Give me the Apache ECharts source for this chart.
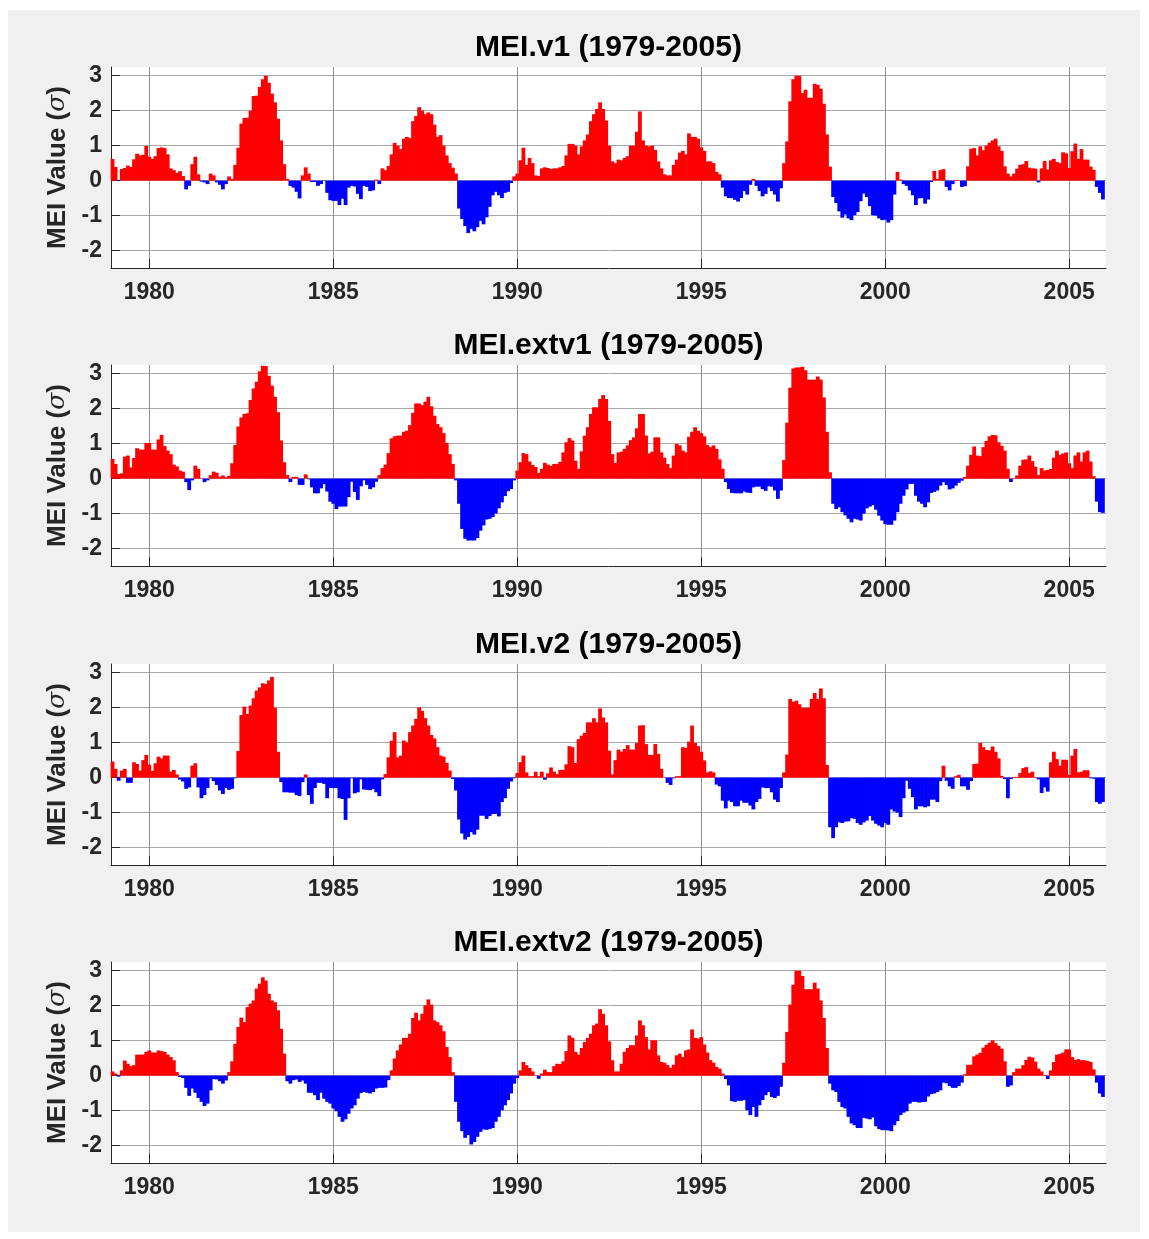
<!DOCTYPE html>
<html><head><meta charset="utf-8">
<script src="https://cdn.jsdelivr.net/npm/echarts@6/dist/echarts.min.js"></script>
<style>
html,body{margin:0;padding:0;background:#fff;}
#bg{position:absolute;left:8px;top:10px;width:1132px;height:1222px;background:#f0f0f0;}
#chart{position:absolute;left:0;top:0;width:1149px;height:1239px;}
</style></head><body>
<div id="bg"></div><div id="chart"></div>
<script>
const startYear = 1979;
const titles = ['MEI.v1 (1979-2005)', 'MEI.extv1 (1979-2005)', 'MEI.v2 (1979-2005)', 'MEI.extv2 (1979-2005)'];
const xTicks = [1980, 1985, 1990, 1995, 2000, 2005];
const yTicks = [-2, -1, 0, 1, 2, 3];
const yLabel = 'MEI Value ({s|σ})';

const meiV1 = [
 0.62,0.39,-0.01,0.33,0.36,0.43,0.39,0.61,0.77,0.72,0.74,0.99,
 0.68,0.62,0.70,0.93,0.95,0.93,0.75,0.35,0.30,0.22,0.27,0.13,
 -0.25,-0.15,0.47,0.68,0.18,-0.03,-0.05,-0.10,0.20,0.15,-0.05,-0.12,
 -0.25,-0.10,0.12,0.05,0.45,0.94,1.63,1.79,1.80,2.00,2.42,2.43,
 2.68,2.90,3.00,2.80,2.49,2.24,1.77,1.15,0.47,0.05,-0.15,-0.20,
 -0.32,-0.51,0.15,0.38,0.20,-0.04,-0.04,-0.15,-0.10,-0.01,-0.35,-0.56,
 -0.58,-0.58,-0.70,-0.52,-0.70,-0.20,-0.15,-0.17,-0.38,-0.53,-0.15,-0.18,
 -0.30,-0.28,0.03,-0.10,0.35,0.30,0.42,0.75,1.08,1.00,0.90,1.20,
 1.25,1.22,1.70,1.85,2.10,2.00,1.90,1.95,1.90,1.60,1.25,1.30,
 1.00,0.72,0.50,0.37,0.20,-0.80,-1.10,-1.30,-1.50,-1.38,-1.45,-1.33,
 -1.15,-1.25,-1.05,-0.75,-0.42,-0.32,-0.42,-0.50,-0.35,-0.32,-0.07,0.12,
 0.20,0.58,0.94,0.45,0.65,0.50,0.15,0.13,0.35,0.38,0.36,0.33,
 0.35,0.35,0.38,0.42,0.72,1.05,1.05,1.00,0.75,0.98,1.15,1.32,
 1.70,1.90,2.05,2.24,2.05,1.72,1.00,0.55,0.50,0.60,0.58,0.65,
 0.70,1.00,1.00,1.40,1.98,1.15,1.00,0.98,1.00,0.88,0.55,0.35,
 0.18,0.15,0.15,0.45,0.60,0.80,0.85,0.75,1.35,1.25,1.25,1.20,
 0.95,0.85,0.55,0.55,0.50,0.25,0.18,-0.20,-0.45,-0.50,-0.50,-0.55,
 -0.60,-0.50,-0.30,-0.40,-0.12,0.05,-0.15,-0.30,-0.45,-0.38,-0.20,-0.30,
 -0.40,-0.60,-0.22,0.50,1.12,2.27,2.90,3.00,3.00,2.50,2.60,2.37,
 2.37,2.77,2.74,2.63,2.20,1.32,0.40,-0.47,-0.64,-0.88,-1.06,-0.97,
 -1.08,-1.13,-0.99,-0.90,-0.59,-0.37,-0.47,-0.73,-0.99,-1.00,-1.08,-1.13,
 -1.12,-1.20,-1.13,-0.40,0.25,0.03,-0.10,-0.15,-0.28,-0.42,-0.70,-0.51,
 -0.50,-0.66,-0.54,-0.04,0.28,0.05,0.30,0.33,-0.18,-0.28,-0.10,0.02,
 0.01,-0.18,-0.16,0.41,0.91,0.93,0.72,0.98,0.87,1.00,1.08,1.15,
 1.20,0.98,0.85,0.41,0.20,0.12,0.20,0.34,0.45,0.47,0.56,0.37,
 0.35,0.34,-0.05,0.35,0.56,0.32,0.58,0.62,0.53,0.50,0.81,0.78,
 0.36,0.84,1.06,0.62,0.90,0.60,0.60,0.40,0.31,-0.18,-0.35,-0.54
];

const meiExtV1 = [
 0.56,0.42,0.13,0.15,0.63,0.66,0.32,0.59,0.87,0.83,0.83,1.02,
 1.02,0.83,0.83,1.12,1.25,0.93,0.80,0.70,0.40,0.35,0.23,0.20,
 -0.10,-0.33,-0.05,0.37,0.28,0.01,-0.10,-0.05,0.10,0.20,0.17,0.05,
 0.09,0.04,0.08,0.44,0.96,1.49,1.75,1.85,1.87,2.25,2.58,2.77,
 3.07,3.23,3.22,2.94,2.66,2.34,1.90,1.09,0.47,0.10,-0.10,0.05,
 0.05,-0.18,-0.18,0.12,-0.02,-0.25,-0.42,-0.42,-0.28,-0.16,-0.37,-0.66,
 -0.72,-0.87,-0.80,-0.80,-0.80,-0.53,-0.09,-0.38,-0.61,-0.22,-0.05,-0.18,
 -0.30,-0.25,-0.09,0.10,0.30,0.40,0.73,1.15,1.21,1.23,1.23,1.34,
 1.37,1.53,1.88,2.15,2.15,2.10,2.20,2.34,2.07,1.80,1.56,1.47,
 1.30,1.02,0.70,0.42,-0.05,-0.72,-1.44,-1.72,-1.77,-1.77,-1.77,-1.70,
 -1.49,-1.34,-1.17,-1.15,-1.10,-1.00,-0.85,-0.68,-0.50,-0.36,-0.30,-0.05,
 0.23,0.47,0.73,0.70,0.49,0.39,0.33,0.16,0.28,0.45,0.40,0.36,
 0.42,0.42,0.48,0.75,1.04,1.16,1.09,0.51,0.28,0.78,1.23,1.47,
 1.85,2.04,2.04,2.28,2.39,2.28,1.65,0.70,0.45,0.75,0.77,0.85,
 0.95,1.10,1.18,1.44,1.85,1.85,1.23,0.72,0.77,1.18,1.18,0.75,
 0.60,0.42,0.30,0.66,0.99,0.95,0.80,0.75,1.20,1.34,1.47,1.37,
 1.30,1.21,0.96,0.90,0.95,0.85,0.55,0.28,-0.10,-0.30,-0.41,-0.42,
 -0.42,-0.42,-0.37,-0.40,-0.41,-0.25,-0.23,-0.23,-0.30,-0.35,-0.22,-0.23,
 -0.34,-0.58,-0.34,0.53,1.60,2.60,3.15,3.18,3.18,3.20,3.10,2.83,
 2.83,2.83,2.92,2.83,2.32,1.34,0.18,-0.72,-0.87,-0.82,-0.96,-1.05,
 -1.15,-1.25,-1.15,-1.17,-1.20,-1.00,-0.85,-0.80,-0.76,-0.89,-1.06,-1.20,
 -1.30,-1.32,-1.32,-1.20,-0.96,-0.72,-0.49,-0.31,-0.15,-0.15,-0.49,-0.66,
 -0.72,-0.82,-0.68,-0.41,-0.38,-0.34,-0.20,-0.10,-0.18,-0.31,-0.28,-0.20,
 -0.12,-0.06,0.05,0.37,0.68,0.92,0.66,0.64,0.90,1.08,1.21,1.25,
 1.24,1.04,0.94,0.80,0.28,-0.10,0.01,0.09,0.37,0.54,0.55,0.66,
 0.50,0.34,0.10,0.30,0.23,0.25,0.28,0.60,0.80,0.68,0.72,0.75,
 0.44,0.30,0.66,0.75,0.49,0.75,0.80,0.49,0.07,-0.66,-0.96,-0.98
];

const meiV2 = [
 0.46,0.25,-0.09,0.20,0.25,-0.15,-0.15,0.44,0.39,0.20,0.50,0.65,
 0.37,0.19,0.41,0.60,0.55,0.63,0.63,0.17,0.22,0.09,-0.06,-0.11,
 -0.32,-0.28,0.34,0.41,-0.28,-0.59,-0.50,-0.30,-0.02,-0.10,-0.21,-0.37,
 -0.47,-0.30,-0.35,-0.32,-0.02,0.76,1.79,2.03,1.82,2.06,2.27,2.49,
 2.58,2.70,2.68,2.78,2.88,2.00,0.74,-0.13,-0.42,-0.42,-0.43,-0.43,
 -0.50,-0.53,-0.13,0.09,-0.50,-0.75,-0.30,-0.15,-0.15,-0.18,-0.59,-0.30,
 -0.30,-0.30,-0.59,-0.61,-1.21,-0.59,-0.02,-0.45,-0.42,-0.05,-0.34,-0.35,
 -0.36,-0.33,-0.42,-0.53,-0.05,0.10,0.58,1.05,1.30,0.58,0.63,1.06,
 1.01,1.30,1.49,1.68,2.01,1.91,1.70,1.49,1.22,1.12,0.87,0.63,
 0.60,0.42,0.20,-0.04,-0.37,-1.20,-1.60,-1.77,-1.70,-1.56,-1.63,-1.49,
 -1.09,-1.09,-1.18,-1.10,-1.04,-1.04,-1.11,-0.70,-0.59,-0.32,-0.11,-0.02,
 0.13,0.44,0.63,0.15,0.04,0.04,0.17,0.04,0.17,-0.06,0.12,0.29,
 0.17,0.10,0.22,0.22,0.38,0.90,0.87,0.42,1.10,1.20,1.28,1.58,
 1.58,1.70,1.58,1.98,1.72,1.58,0.77,0.09,0.50,0.80,0.74,0.82,
 0.93,0.80,0.80,0.99,1.49,1.50,0.96,0.65,0.65,0.96,0.68,0.25,
 0.01,-0.15,-0.21,-0.02,0.04,0.04,0.87,0.85,1.03,1.49,0.99,0.90,
 0.74,0.49,0.15,0.18,0.15,-0.20,-0.25,-0.66,-0.88,-0.66,-0.70,-0.82,
 -0.82,-0.66,-0.72,-0.72,-0.80,-0.91,-0.70,-0.61,-0.28,-0.30,-0.30,-0.42,
 -0.63,-0.70,-0.30,0.15,0.66,2.25,2.17,2.20,2.10,2.00,2.00,2.00,
 2.25,2.42,2.25,2.55,2.27,0.36,-1.42,-1.73,-1.42,-1.28,-1.30,-1.26,
 -1.25,-1.16,-1.18,-1.30,-1.35,-1.28,-1.23,-1.10,-1.23,-1.32,-1.37,-1.42,
 -1.30,-1.35,-0.91,-0.97,-1.00,-1.13,-0.59,-0.09,-0.32,-0.56,-0.91,-0.82,
 -0.82,-0.85,-0.82,-0.63,-0.63,-0.70,-0.10,0.34,-0.09,-0.25,-0.32,0.04,
 0.08,-0.25,-0.25,-0.35,-0.10,0.39,0.40,0.99,0.87,0.79,0.78,0.89,
 0.74,0.55,0.05,-0.04,-0.59,-0.04,0.02,0.02,0.13,0.27,0.30,0.13,
 0.17,0.01,-0.05,-0.44,-0.28,-0.40,0.44,0.74,0.53,0.34,0.51,0.51,
 0.08,0.63,0.82,0.15,0.17,0.21,0.21,-0.02,-0.03,-0.70,-0.75,-0.70
];

const meiExtV2 = [
 0.12,0.06,-0.03,0.15,0.43,0.34,0.27,0.30,0.60,0.60,0.60,0.68,
 0.72,0.66,0.66,0.72,0.70,0.68,0.60,0.53,0.44,0.10,-0.04,-0.07,
 -0.35,-0.58,-0.37,-0.49,-0.64,-0.75,-0.87,-0.80,-0.42,-0.10,-0.11,-0.16,
 -0.23,-0.14,0.10,0.41,0.91,1.39,1.66,1.53,1.96,2.06,2.15,2.49,
 2.63,2.81,2.72,2.34,2.15,2.10,1.87,1.34,0.63,-0.16,-0.23,-0.13,
 -0.11,-0.18,-0.14,-0.23,-0.49,-0.49,-0.56,-0.70,-0.49,-0.66,-0.75,-0.80,
 -0.94,-1.02,-1.18,-1.32,-1.25,-1.09,-0.94,-0.85,-0.66,-0.50,-0.47,-0.49,
 -0.51,-0.47,-0.37,-0.35,-0.35,-0.34,-0.13,0.15,0.49,0.72,0.89,1.08,
 1.08,1.20,1.65,1.80,1.58,1.77,2.01,2.18,2.03,1.58,1.53,1.44,
 1.27,0.82,0.53,0.10,-0.75,-1.32,-1.59,-1.78,-1.70,-1.97,-1.90,-1.75,
 -1.61,-1.54,-1.55,-1.53,-1.50,-1.32,-1.18,-0.99,-0.85,-0.70,-0.51,-0.23,
 -0.07,0.15,0.39,0.30,0.22,0.12,0.01,-0.09,0.06,0.17,0.10,0.10,
 0.27,0.34,0.33,0.41,0.70,1.15,1.08,0.68,0.60,0.79,0.96,1.08,
 1.20,1.44,1.49,1.90,1.77,1.44,0.98,0.44,0.12,0.12,0.34,0.68,
 0.79,0.87,0.87,1.15,1.58,1.44,1.10,0.75,1.01,1.01,0.58,0.39,
 0.37,0.30,0.22,0.31,0.58,0.63,0.53,0.72,0.75,1.32,1.08,1.06,
 1.10,0.89,0.66,0.44,0.37,0.25,0.20,0.06,-0.10,-0.28,-0.73,-0.75,
 -0.72,-0.72,-0.70,-0.99,-1.13,-0.90,-1.18,-0.85,-0.70,-0.56,-0.47,-0.61,
 -0.64,-0.58,-0.32,0.37,1.25,2.03,2.60,3.00,3.00,2.85,2.47,2.47,
 2.47,2.66,2.49,2.15,1.65,0.79,-0.23,-0.42,-0.47,-0.75,-0.90,-0.94,
 -1.18,-1.37,-1.42,-1.50,-1.50,-1.21,-1.23,-1.25,-1.20,-1.45,-1.53,-1.56,
 -1.56,-1.57,-1.59,-1.42,-1.30,-1.13,-1.06,-1.02,-0.80,-0.75,-0.75,-0.77,
 -0.76,-0.75,-0.60,-0.53,-0.51,-0.47,-0.42,-0.20,-0.22,-0.30,-0.35,-0.35,
 -0.30,-0.20,0.04,0.31,0.31,0.55,0.60,0.65,0.80,0.88,0.94,1.01,
 0.93,0.85,0.77,0.41,-0.32,-0.28,0.10,0.20,0.20,0.30,0.45,0.54,
 0.52,0.40,0.20,0.12,0.02,-0.10,0.15,0.39,0.60,0.62,0.66,0.75,
 0.75,0.53,0.45,0.47,0.44,0.44,0.42,0.39,0.18,-0.20,-0.51,-0.61
];

const panels = [meiV1, meiExtV1, meiV2, meiExtV2];
const gridTops = [67, 365, 664, 962];
const gridLeft = 111, gridWidth = 995, gridHeight = 201;
const font = '"Liberation Sans", Arial, Helvetica, sans-serif';
const axisColor = '#262626';
const posColor = '#ff0000', negColor = '#0000ff';

const chart = echarts.init(document.getElementById('chart'), null, {renderer: 'canvas'});
const option = {
  animation: false,
  backgroundColor: 'transparent',
  title: titles.map((t, i) => ({
    text: t, left: gridLeft + gridWidth / 2, top: gridTops[i] - 34, textAlign: 'center', padding: 0,
    textStyle: {fontFamily: font, fontWeight: 'bold', fontSize: 30, color: '#000'}
  })),
  grid: gridTops.map(t => ({left: gridLeft, top: t, width: gridWidth, height: gridHeight,
    show: true, backgroundColor: '#ffffff', borderWidth: 0, containLabel: false})),
  xAxis: gridTops.map((t, i) => ({
    type: 'value', gridIndex: i, min: startYear - 1 / 24, max: 2006,
    axisLine: {show: true, onZero: false, lineStyle: {color: axisColor, width: 1}},
    axisTick: {show: true, inside: true, length: 9, customValues: xTicks, lineStyle: {color: axisColor}},
    axisLabel: {customValues: xTicks, margin: 13, fontFamily: font, fontWeight: 'bold', fontSize: 23, color: axisColor,
      formatter: v => String(v)},
    splitLine: {show: true, lineStyle: {color: '#8f8f8f', width: 1}},
    minorTick: {show: false}
  })),
  yAxis: gridTops.map((t, i) => ({
    type: 'value', gridIndex: i, min: -2.5, max: 3.25,
    name: yLabel, nameLocation: 'middle', nameGap: 35, nameRotate: 90,
    nameTextStyle: {fontFamily: font, fontWeight: 'bold', fontSize: 26, color: axisColor,
      rich: {s: {fontFamily: '"DejaVu Serif", serif', fontStyle: 'italic', fontWeight: 'normal', fontSize: 25, color: axisColor}}},
    axisLine: {show: true, lineStyle: {color: axisColor, width: 1}},
    axisTick: {show: true, inside: true, length: 9, customValues: yTicks, lineStyle: {color: axisColor}},
    axisLabel: {customValues: yTicks, margin: 9, fontFamily: font, fontWeight: 'bold', fontSize: 23, color: axisColor,
      formatter: v => String(v)},
    splitLine: {show: true, lineStyle: {color: '#a8a8a8', width: 1}}
  })),
  series: panels.map((vals, i) => ({
    type: 'bar', xAxisIndex: i, yAxisIndex: i, barWidth: 3.8, barMinWidth: 3.8,
    data: vals.map((v, j) => ({value: [startYear + j / 12, v],
      itemStyle: {color: v >= 0 ? posColor : negColor}})),
    emphasis: {disabled: true}
  }))
};
chart.setOption(option);
</script>
</body></html>
